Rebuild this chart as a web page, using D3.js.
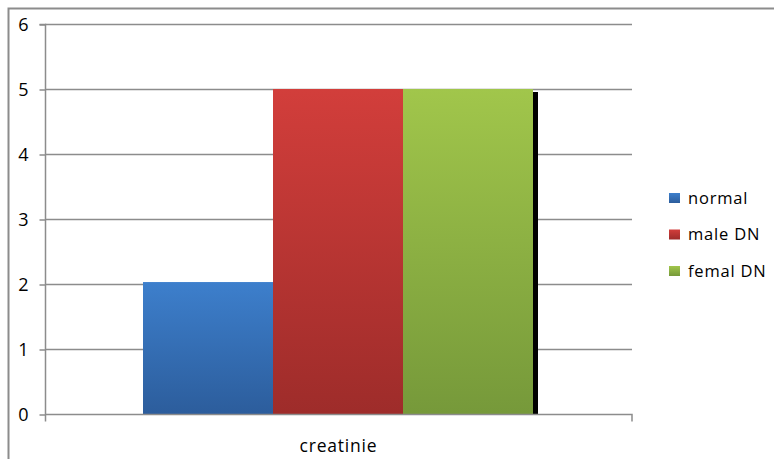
<!DOCTYPE html>
<html><head><meta charset="utf-8">
<script src="https://cdn.jsdelivr.net/npm/d3@7"></script>
<style>body{margin:0;background:#fff}svg{display:block}text{font-family:"Open Sans","Noto Sans",sans-serif;fill:#000}</style>
</head><body>
<svg id="c" width="774" height="459"></svg>
<script>
const categories = ["creatinie"];
const seriesNames = ["normal", "male DN", "femal DN"];
const seriesValues = [2.03, 5, 5];
const yTicks = [0, 1, 2, 3, 4, 5, 6];
const topColors = ["#3d7fcc", "#d23e3b", "#a1c64b"];
const bottomColors = ["#2c5d9c", "#9e2c2a", "#76993a"];

const svg = d3.select("#c");
svg.append("path").attr("d","M8.5,459 V8.5 H774").attr("fill","none").attr("stroke","#8c8c8c").attr("stroke-width",2);

const L = 45, R = 632, T = 24, B = 414;
const y = d3.scaleLinear().domain([0, 6]).range([B, T]);
const x0 = d3.scaleBand().domain(categories).range([L, R]);
const x1 = d3.scaleBand().domain(seriesNames).range([143 - L, 533 - L]);

const defs = svg.append("defs");
seriesNames.forEach((s, i) => {
  const g = defs.append("linearGradient").attr("id", "g" + i).attr("x1", 0).attr("y1", 0).attr("x2", 0).attr("y2", 1);
  g.append("stop").attr("offset", "0%").attr("stop-color", topColors[i]);
  g.append("stop").attr("offset", "100%").attr("stop-color", bottomColors[i]);
  const lg = defs.append("linearGradient").attr("id", "lg" + i).attr("x1", 0).attr("y1", 0).attr("x2", 0).attr("y2", 1);
  lg.append("stop").attr("offset", "0%").attr("stop-color", topColors[i]);
  lg.append("stop").attr("offset", "100%").attr("stop-color", bottomColors[i]);
});

// gridlines
svg.append("g").selectAll("line").data(yTicks.filter(d => d > 0)).join("line")
  .attr("x1", L).attr("x2", R).attr("y1", d => y(d) + 0.5).attr("y2", d => y(d) + 0.5)
  .attr("stroke", "#8c8c8c").attr("stroke-width", 1.5);

// y axis
const yAxis = d3.axisLeft(y).tickValues(yTicks).tickSize(6).tickPadding(12).tickFormat(d3.format("d"));
const ya = svg.append("g").attr("transform", `translate(${L + 0.5},0.5)`).call(yAxis);
ya.select(".domain").attr("stroke", "#8c8c8c").attr("stroke-width", 1.5).attr("d", `M-6,${T}H0V${B + 7}`);
ya.selectAll(".tick line").attr("stroke", "#8c8c8c").attr("stroke-width", 1.5);
ya.selectAll(".tick text").style("font-size", "18px").attr("fill", "#000").attr("dy", "0.36em").attr("x", -17);

// shadow for last bar
const gx = x0(categories[0]);
const last = seriesNames.length - 1;
svg.append("rect").attr("x", gx + x1(seriesNames[last]) + x1.bandwidth()).attr("y", y(seriesValues[last]) + 3)
  .attr("width", 5).attr("height", B - y(seriesValues[last]) - 3).attr("fill", "#000");

// bars
svg.append("g").selectAll("rect").data(seriesNames).join("rect")
  .attr("x", s => gx + x1(s)).attr("width", x1.bandwidth())
  .attr("y", (s, i) => y(seriesValues[i])).attr("height", (s, i) => B - y(seriesValues[i]))
  .attr("fill", (s, i) => `url(#g${i})`);

// x axis
const xa = svg.append("g").attr("transform", `translate(0,${B + 0.5})`)
  .call(d3.axisBottom(x0).tickSize(0).tickPadding(25));
xa.select(".domain").attr("stroke", "#8c8c8c").attr("stroke-width", 1.5).attr("d", `M${L},0H${R}V7`);
xa.selectAll(".tick text").style("font-size", "17.5px").attr("fill", "#000").attr("letter-spacing", "0.8px");

// legend
const lg = svg.append("g");
seriesNames.forEach((s, i) => {
  const yy = 193 + i * 36.5;
  lg.append("rect").attr("x", 669).attr("y", yy).attr("width", 11).attr("height", 10).attr("fill", `url(#lg${i})`);
  lg.append("text").attr("x", 688).attr("y", yy + 10.5).style("font-size", "16.5px").attr("letter-spacing", "0.8px").text(s);
});
</script>
</body></html>
